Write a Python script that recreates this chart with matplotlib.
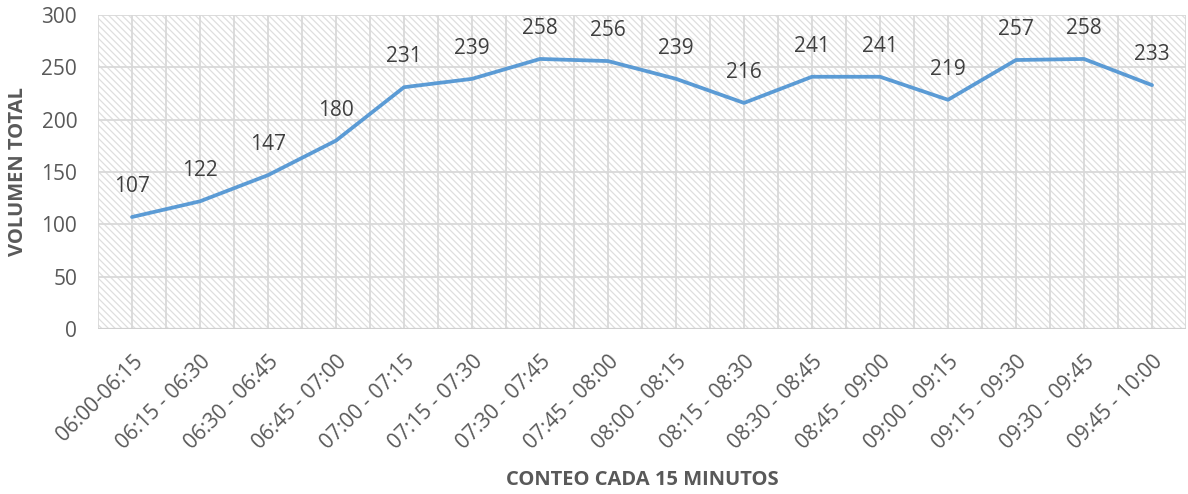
import matplotlib
matplotlib.use("Agg")
import matplotlib.pyplot as plt
from matplotlib.patches import Rectangle
import numpy as np

intervals = ["06:00-06:15", "06:15 - 06:30", "06:30 - 06:45", "06:45 - 07:00",
             "07:00 - 07:15", "07:15 - 07:30", "07:30 - 07:45", "07:45 - 08:00",
             "08:00 - 08:15", "08:15 - 08:30", "08:30 - 08:45", "08:45 - 09:00",
             "09:00 - 09:15", "09:15 - 09:30", "09:30 - 09:45", "09:45 - 10:00"]
volumes = [107, 122, 147, 180, 231, 239, 258, 256, 239, 216, 241, 241, 219, 257, 258, 233]
y_ticks = [0, 50, 100, 150, 200, 250, 300]

TEXT = "#595959"
LABEL = "#404040"
GRID = "#d9d9d9"
LINE = "#5B9BD5"
HATCH = "#dedede"

plt.rcParams["font.family"] = ["Open Sans", "DejaVu Sans"]
plt.rcParams["hatch.color"] = HATCH
plt.rcParams["hatch.linewidth"] = 0.9

fig = plt.figure(figsize=(11.88, 4.94), dpi=100)
ax = fig.add_axes([98 / 1188, 165 / 494, 1088 / 1188, 314 / 494])

n = len(intervals)
x = np.arange(n)
ax.set_xlim(-0.5, n - 0.5)
ax.set_ylim(0, 300)

# hatched plot-area background
ax.add_patch(Rectangle((0, 0), 1, 1, transform=ax.transAxes, facecolor="white",
                       edgecolor=HATCH, hatch="\\" * 5, linewidth=0, zorder=0))

# gridlines at category centres and boundaries
for xv in np.arange(-0.5, n, 0.5):
    ax.axvline(xv, color=GRID, linewidth=1.3, zorder=1)
for yv in y_ticks[1:]:
    ax.axhline(yv, color=GRID, linewidth=1.3, zorder=1)
ax.axhline(0, color="#d0d0d0", linewidth=1.6, zorder=2)

ax.plot(x, volumes, color=LINE, linewidth=2.7, solid_joinstyle="round",
        solid_capstyle="round", zorder=3)

for xi, v in zip(x, volumes):
    ax.annotate(str(v), (xi, v), xytext=(0, 22), textcoords="offset points",
                ha="center", va="center", fontsize=15, color=LABEL, zorder=4)

for s in ax.spines.values():
    s.set_visible(False)

ax.set_yticks(y_ticks)
ax.set_yticklabels([str(t) for t in y_ticks], fontsize=15, color=TEXT)
ax.set_xticks(x)
ax.set_xticklabels(intervals, rotation=45, ha="right", rotation_mode="anchor",
                   fontsize=15, color=TEXT)
ax.tick_params(axis="both", length=0)
ax.tick_params(axis="x", pad=16)
ax.tick_params(axis="y", pad=15)

fig.text(18 / 1188, 1 - 172 / 494, "VOLUMEN TOTAL", rotation=90, ha="center", va="center",
         fontsize=14.5, fontweight="bold", color=TEXT)
fig.text(642 / 1188, 1 - 480 / 494, "CONTEO CADA 15 MINUTOS", ha="center", va="center",
         fontsize=14.5, fontweight="bold", color=TEXT)

fig.savefig("out.png", dpi=100, facecolor="white")
